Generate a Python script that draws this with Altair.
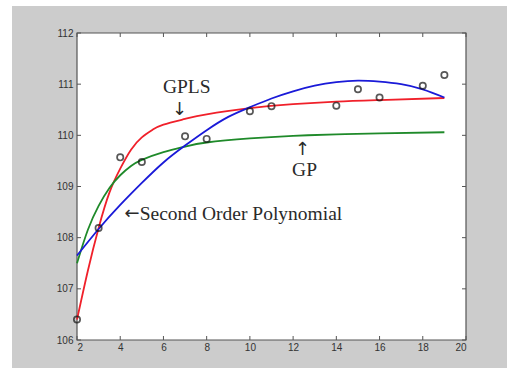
import altair as alt
import pandas as pd

# Observed values (open circles)
obs_x = [2, 3, 4, 5, 7, 8, 10, 11, 14, 15, 16, 18, 19]
obs_y = [106.40, 108.19, 109.57, 109.48, 109.98, 109.93, 110.47, 110.57,
         110.58, 110.90, 110.74, 110.97, 111.18]

# GPLS fit (red)
gpls_x = [2, 2.5, 3, 3.5, 4, 4.5, 5, 5.5, 6, 7, 8, 10, 12, 14, 16, 19]
gpls_y = [106.40, 107.35, 108.19, 108.88, 109.35, 109.72, 109.96, 110.11,
          110.21, 110.32, 110.41, 110.53, 110.61, 110.66, 110.69, 110.73]

# GP fit (green)
gp_x = [2, 2.5, 3, 3.5, 4, 4.5, 5, 6, 7, 8, 10, 12, 14, 16, 19]
gp_y = [107.50, 108.15, 108.62, 108.97, 109.22, 109.40, 109.52, 109.67,
        109.78, 109.86, 109.94, 109.99, 110.02, 110.04, 110.06]

# Second order polynomial fit (blue)
poly_x = [2, 3, 4, 5, 6, 7, 8, 9, 10, 11, 12, 13, 14, 15, 16, 17, 18, 19]
poly_y = [107.65, 108.17, 108.64, 109.07, 109.47, 109.80, 110.10, 110.36,
          110.55, 110.72, 110.86, 110.97, 111.04, 111.07, 111.05, 111.00,
          110.90, 110.74]

x_ticks = [2, 4, 6, 8, 10, 12, 14, 16, 18, 20]
y_ticks = [106, 107, 108, 109, 110, 111, 112]

# annotation words and arrows
word_text = ["GPLS", "GP", "Second Order Polynomial"]
word_x = [7.08, 12.53, 4.90]
word_y = [110.95, 109.33, 108.46]
word_align = ["center", "center", "left"]

arrow_text = ["\u2193", "\u2191", "\u2190"]
arrow_x = [6.75, 12.44, 4.55]
arrow_y = [110.50, 109.72, 108.46]

W, H = 389, 307

xs = alt.Scale(domain=[2, 20], nice=False, zero=False)
ys = alt.Scale(domain=[106, 112], nice=False, zero=False)

x_axis = alt.Axis(values=x_ticks, ticks=False, domain=False, grid=False,
                  labelPadding=2, title=None, zindex=1,
                  labelFont="Liberation Sans", labelFontSize=10, labelColor="#333333")
y_axis = alt.Axis(values=y_ticks, ticks=False, domain=False, grid=False,
                  labelPadding=4, title=None, zindex=1,
                  labelFont="Liberation Sans", labelFontSize=10, labelColor="#333333")

one = alt.Data(values=[{}])

# gray figure backdrop and white axes box
backdrop = alt.Chart(one).mark_rect(color="#cccccc").encode(
    x=alt.value(-65), x2=alt.value(430), y=alt.value(-27), y2=alt.value(335))
box = alt.Chart(one).mark_rect(fill="white", stroke="#555555", strokeWidth=1.2).encode(
    x=alt.value(0), x2=alt.value(W), y=alt.value(0), y2=alt.value(H))

fits = pd.concat([
    pd.DataFrame({"x": gpls_x, "y": gpls_y, "fit": "GPLS"}),
    pd.DataFrame({"x": gp_x, "y": gp_y, "fit": "GP"}),
    pd.DataFrame({"x": poly_x, "y": poly_y, "fit": "Poly"}),
])

lines = alt.Chart(fits).mark_line(strokeWidth=1.8, interpolate="natural").encode(
    x=alt.X("x:Q", scale=xs, axis=x_axis),
    y=alt.Y("y:Q", scale=ys, axis=y_axis),
    color=alt.Color("fit:N", legend=None,
                    scale=alt.Scale(domain=["GPLS", "GP", "Poly"],
                                    range=["#f0202a", "#1f8a2a", "#1a1ad8"])),
    detail="fit:N",
)

points = alt.Chart(pd.DataFrame({"x": obs_x, "y": obs_y})).mark_point(
    shape="circle", filled=False, color="#111111", size=40, strokeWidth=1.7
).encode(x=alt.X("x:Q", scale=xs, axis=x_axis), y=alt.Y("y:Q", scale=ys, axis=y_axis))

xt = pd.DataFrame({"t": x_ticks})
yt = pd.DataFrame({"t": y_ticks})
tick_style = dict(color="#555555", strokeWidth=1)
ticks = [
    alt.Chart(xt).mark_rule(**tick_style).encode(
        x=alt.X("t:Q", scale=xs, axis=x_axis), y=alt.value(H), y2=alt.value(H - 4)),
    alt.Chart(xt).mark_rule(**tick_style).encode(
        x=alt.X("t:Q", scale=xs, axis=x_axis), y=alt.value(0), y2=alt.value(4)),
    alt.Chart(yt).mark_rule(**tick_style).encode(
        y=alt.Y("t:Q", scale=ys, axis=y_axis), x=alt.value(0), x2=alt.value(4)),
    alt.Chart(yt).mark_rule(**tick_style).encode(
        y=alt.Y("t:Q", scale=ys, axis=y_axis), x=alt.value(W - 4), x2=alt.value(W)),
]

words = pd.DataFrame({"label": word_text, "x": word_x, "y": word_y, "align": word_align})
texts = []
for al in ["center", "left"]:
    texts.append(
        alt.Chart(words[words["align"] == al]).mark_text(
            font="Liberation Serif", fontSize=19.5, color="#2a2a2a",
            align=al, baseline="middle"
        ).encode(x=alt.X("x:Q", scale=xs, axis=x_axis),
                 y=alt.Y("y:Q", scale=ys, axis=y_axis), text="label:N")
    )

arrows = alt.Chart(pd.DataFrame({"label": arrow_text, "x": arrow_x, "y": arrow_y})).mark_text(
    font="DejaVu Sans", fontSize=18, color="#2a2a2a", align="center", baseline="middle"
).encode(x=alt.X("x:Q", scale=xs, axis=x_axis),
         y=alt.Y("y:Q", scale=ys, axis=y_axis), text="label:N")

chart = alt.layer(backdrop, box, *ticks, lines, points, *texts, arrows).properties(
    width=W, height=H,
    autosize=alt.AutoSizeParams(type="none"),
    padding={"left": 77, "top": 33, "right": 41, "bottom": 39},
    background="white",
).configure_view(stroke=None, fill=None)

chart.save("out.html", embed_options={"renderer": "svg", "actions": False})
